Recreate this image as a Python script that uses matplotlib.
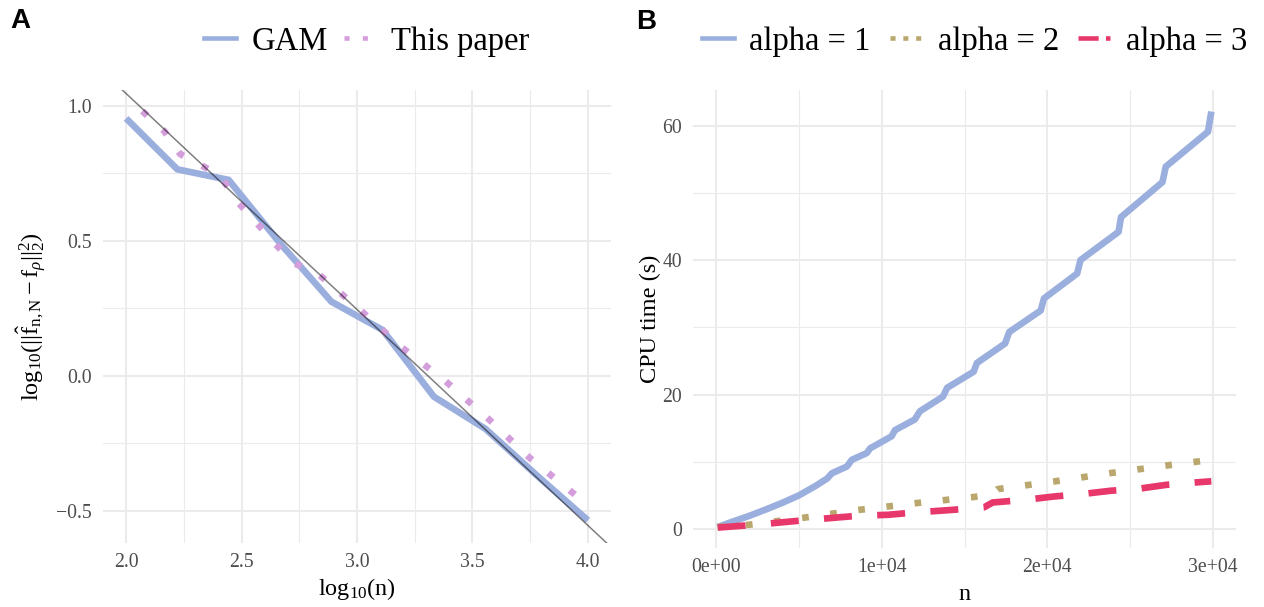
import matplotlib
matplotlib.use("Agg")
import matplotlib.pyplot as plt
from matplotlib.lines import Line2D

plt.rcParams['font.family'] = ['Liberation Serif', 'DejaVu Serif']
plt.rcParams['mathtext.fontset'] = 'custom'
plt.rcParams['mathtext.rm'] = 'Liberation Serif'
plt.rcParams['mathtext.it'] = 'Liberation Serif:italic'
plt.rcParams['mathtext.bf'] = 'Liberation Serif:bold'

# ---------------- Data: panel A ----------------
gam_x = [2.0, 2.222, 2.444, 2.667, 2.889, 3.111, 3.333, 3.556, 3.778, 4.0]
gam_y = [0.953, 0.764, 0.725, 0.49, 0.274, 0.169, -0.078, -0.197, -0.369, -0.536]

paper_x = [2.07, 2.165, 2.234, 2.41, 2.473, 2.719, 2.826, 3.01, 3.19, 3.383, 3.569, 3.747, 3.95]
paper_y = [0.98, 0.906, 0.821, 0.74, 0.653, 0.419, 0.381, 0.246, 0.107, -0.02, -0.16, -0.304, -0.445]

ref_intercept = 2.645
ref_slope = -0.8

a_xticks = [2.0, 2.5, 3.0, 3.5, 4.0]
a_xticklabels = ["2.0", "2.5", "3.0", "3.5", "4.0"]
a_yticks = [-0.5, 0.0, 0.5, 1.0]
a_yticklabels = ["\u22120.5", "0.0", "0.5", "1.0"]

# ---------------- Data: panel B ----------------
a1_n = [100, 1000, 2000, 3000, 4000, 5000, 6000, 6700, 7000, 7900, 8200, 9100, 9300,
        10600, 10800, 12000, 12300, 13700, 13950, 15550, 15750, 17450, 17700, 19600,
        19800, 21800, 22000, 24300, 24450, 26950, 27150, 29700, 29900]
a1_t = [0.3, 1.1, 1.95, 2.9, 3.9, 5.0, 6.4, 7.5, 8.3, 9.3, 10.3, 11.3, 12.0,
        13.8, 14.7, 16.3, 17.5, 19.7, 21.0, 23.4, 24.7, 27.6, 29.3, 32.5,
        34.3, 38.0, 40.0, 44.2, 46.4, 51.6, 53.9, 59.1, 62.1]

a2_n = [100, 2000, 5400, 8700, 10400, 12100, 15500, 16600, 17000, 20400, 23800, 27200, 29900]
a2_t = [0.3, 0.64, 1.72, 2.87, 3.36, 3.86, 4.75, 5.1, 5.94, 7.07, 8.32, 9.45, 10.3]

a3_n = [100, 1800, 3500, 5200, 6900, 8600, 10400, 12000, 13750, 15400, 16200, 16700,
        18700, 20400, 22100, 23800, 25500, 27200, 28900, 29900]
a3_t = [0.22, 0.53, 0.89, 1.28, 1.63, 1.98, 2.12, 2.47, 2.76, 3.06, 3.25, 3.95,
        4.35, 4.84, 5.2, 5.69, 5.99, 6.58, 6.92, 7.1]

b_xticks = [0, 10000, 20000, 30000]
b_xticklabels = ["0e+00", "1e+04", "2e+04", "3e+04"]
b_yticks = [0, 20, 40, 60]
b_yticklabels = ["0", "20", "40", "60"]

# ---------------- Styles ----------------
C_BLUE = '#9BAFDE'
C_PURPLE = '#D49DDB'
C_TAN = '#B9A76E'
C_RED = '#E8386B'
GRID = '#EBEBEB'
TICK_C = '#4D4D4D'
LW = 4.8
TICK_FS = 14.2
TITLE_FS = 17.5
LEG_FS = 23.5

W, H = 1264, 607
fig = plt.figure(figsize=(W / 100, H / 100), dpi=100)


def box(l, t, r, b):
    return [l / W, 1 - b / H, (r - l) / W, (b - t) / H]


axA = fig.add_axes(box(103, 90, 611, 543))
axB = fig.add_axes(box(693, 90, 1236, 548))


def style(ax, xminor, yminor):
    for s in ax.spines.values():
        s.set_visible(False)
    ax.set_xticks(xminor, minor=True)
    ax.set_yticks(yminor, minor=True)
    ax.grid(True, which='major', color=GRID, lw=1.5, zorder=0)
    ax.grid(True, which='minor', color=GRID, lw=0.8, zorder=0)
    ax.set_axisbelow(True)
    ax.tick_params(which='both', length=0, colors=TICK_C, labelsize=TICK_FS)
    ax.tick_params(axis='x', pad=7)
    ax.tick_params(axis='y', pad=8)


# Panel A
axA.plot(gam_x, gam_y, color=C_BLUE, lw=LW, solid_capstyle='butt', solid_joinstyle='miter', zorder=3)
axA.plot(paper_x, paper_y, color=C_PURPLE, lw=LW, linestyle=(0, (1.0, 3.12)),
         dash_capstyle='butt', zorder=3)
axA.axline((0, ref_intercept), slope=ref_slope, color='black', alpha=0.5, lw=1.1, zorder=4)
axA.set_xlim(1.9, 4.1)
axA.set_ylim(-0.62, 1.058)
axA.set_xticks(a_xticks)
axA.set_xticklabels(a_xticklabels)
axA.set_yticks(a_yticks)
axA.set_yticklabels(a_yticklabels)
style(axA, [2.25, 2.75, 3.25, 3.75], [-0.25, 0.25, 0.75])
axA.set_xlabel(r'$\mathrm{log}_{10}(\mathrm{n})$', fontsize=TITLE_FS, labelpad=3)
axA.set_ylabel(r'$\mathrm{log}_{10}(||\hat{\mathrm{f}}_{\mathrm{n,N}}-\mathrm{f}_{\rho}||_2^2)$',
               fontsize=TITLE_FS, labelpad=5)

# Panel B
axB.plot(a1_n, a1_t, color=C_BLUE, lw=LW, solid_capstyle='butt', zorder=3)
axB.plot(a2_n, a2_t, color=C_TAN, lw=LW, linestyle=(0, (1.0, 3.25)), dash_capstyle='butt', zorder=3)
axB.plot(a3_n, a3_t, color=C_RED, lw=LW, linestyle=(0, (4.2, 3.8)), dash_capstyle='butt', zorder=4)
axB.set_xlim(-1390, 31390)
axB.set_ylim(-2.82, 65.3)
axB.set_xticks(b_xticks)
axB.set_xticklabels(b_xticklabels)
axB.set_yticks(b_yticks)
axB.set_yticklabels(b_yticklabels)
style(axB, [5000, 15000, 25000], [10, 30, 50])
axB.set_xlabel('n', fontsize=TITLE_FS, labelpad=5)
axB.set_ylabel('CPU time (s)', fontsize=TITLE_FS, labelpad=1)

# Legends
KLW = 3.3
hA = [Line2D([], [], color=C_BLUE, lw=KLW),
      Line2D([], [], color=C_PURPLE, lw=KLW, linestyle=(0, (1.1, 2.9)), dash_capstyle='butt')]
fig.legend(hA, ['GAM', 'This paper'], loc='center', bbox_to_anchor=(366.8 / W, 1 - 41.5 / H),
           ncol=2, frameon=False, fontsize=LEG_FS, handlelength=0.97, handletextpad=0.48,
           columnspacing=0.5, borderpad=0, borderaxespad=0)
hB = [Line2D([], [], color=C_BLUE, lw=KLW),
      Line2D([], [], color=C_TAN, lw=KLW, linestyle=(0, (1.1, 1.7)), dash_capstyle='butt'),
      Line2D([], [], color=C_RED, lw=KLW, linestyle=(0, (4.4, 1.6)), dash_capstyle='butt')]
fig.legend(hB, ['alpha = 1', 'alpha = 2', 'alpha = 3'], loc='center',
           bbox_to_anchor=(974.5 / W, 1 - 41.5 / H), ncol=3, frameon=False, fontsize=LEG_FS,
           handlelength=0.97, handletextpad=0.48, columnspacing=0.6, borderpad=0,
           borderaxespad=0)

fig.text(10 / W, 1 - 28.5 / H, 'A', fontfamily='Liberation Sans', fontweight='bold', fontsize=20,
         va='baseline', ha='left')
fig.text(636 / W, 1 - 29 / H, 'B', fontfamily='Liberation Sans', fontweight='bold', fontsize=20,
         va='baseline', ha='left')

fig.savefig('out.png', dpi=100)
